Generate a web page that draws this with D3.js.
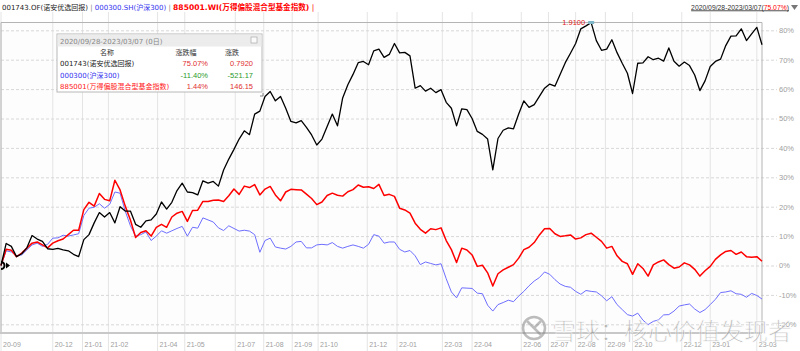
<!DOCTYPE html>
<html>
<head>
<meta charset="utf-8">
<script src="https://cdn.jsdelivr.net/npm/d3@7"></script>
<style>
  body { margin: 0; background: #fff; }
  svg { display: block; font-family: "DejaVu Sans", "Noto Sans CJK SC", sans-serif; }
  .grid line { stroke: #e4e4e4; }
  .ygrid line { stroke: #d8d8d8; stroke-dasharray: 3,2; }
  .axis text { fill: #a0a0a0; font-family: "Liberation Sans", Arial, sans-serif; }
</style>
</head>
<body>
<svg id="chart" width="800" height="351"></svg>
<script>
/* performance comparison, 001743 vs CSI300 vs Wind fund index */
const svg = d3.select("svg#chart");
const width = 800;
const height = 351;
const plotLeft = 1;
const plotRight = 762;
const plotTop = 22.5;
const plotBottom = 333;

// trading-day index of every sample (one point every 4 trading days)
const totalDays = 588;
const sampleStep = 4;

// cumulative return in %, 001743.OF (black)
const fundValues = [0, 7.5, 6.5, 3, 4, 6, 10.2, 9, 8.2, 5.7,
  5.5, 5.8, 5.3, 5, 3.8, 3, 8.8, 10.5, 14.5, 18,
  16.5, 18, 14.5, 20, 18.5, 18.5, 14, 13, 15.2, 15.5,
  17.5, 21.6, 19.2, 21.5, 25.5, 28, 25, 24.8, 24, 28.8,
  28, 28.6, 27, 32.5, 36.2, 39.5, 43, 45.8, 44.5, 51.5,
  52.5, 57.5, 59.2, 56, 57.5, 53.5, 49, 48.5, 49.3, 47,
  44.4, 41, 43, 47.3, 51.5, 47.5, 57, 61.5, 65, 69,
  69.4, 68.3, 73, 73.6, 70.8, 71.8, 75.5, 72.3, 72.5, 71.3,
  60.3, 61.2, 59.3, 60.3, 58.8, 59.8, 55.5, 53.5, 47.5, 53.3,
  53, 50, 45.6, 44.6, 43, 32.5, 43.2, 46, 46.8, 46.5,
  51.5, 56, 53.8, 54.7, 57.5, 60.3, 61.7, 61, 65, 69,
  72.2, 75.5, 80.5, 81.5, 82.6, 76.5, 73.2, 73.6, 76.8, 72.4,
  68.8, 65.4, 58.5, 68.8, 68.9, 71, 70, 70.5, 69.5, 74,
  69.5, 67.8, 69.2, 68, 64.8, 59.5, 62.8, 67.7, 69.4, 70.2,
  74.8, 78, 78.1, 80.5, 76.5, 78.8, 81, 75.07];

// cumulative return in %, 885001.WI (red)
const indexValues = [0, 5.5, 5.2, 3, 4.2, 5.9, 7.6, 8, 7, 6,
  7.6, 8.4, 9, 10.5, 12, 12, 19, 21.5, 20.2, 24.5,
  22.5, 22, 29, 25.7, 20.2, 15.5, 9.5, 11.2, 11.8, 10,
  13, 14, 13, 16.5, 17.8, 18.4, 15, 18.7, 18.8, 21.8,
  21.8, 22.2, 22.3, 21.8, 23.7, 26, 24.2, 27, 26.5, 27.5,
  24, 26, 26.9, 24, 22, 25, 25.9, 25.8, 25.7, 24.3,
  22.8, 20.7, 21.6, 23.8, 24.6, 23.9, 23.6, 25.1, 25.8, 27.4,
  26.6, 26.8, 26.2, 27.6, 23.8, 24.2, 23.5, 19.5, 18.9, 17.8,
  14.4, 12.3, 11, 12.5, 12.2, 12.8, 8.5, 5.4, 1, 5.9,
  5.3, 3.6, -0.3, 0.1, -2.5, -7, -2.8, -1.5, -0.6, 0.3,
  2.5, 5.4, 6.2, 7.8, 10.4, 12.5, 12.6, 10.8, 9.9, 10.1,
  10.4, 9, 9.4, 10.5, 11, 9.6, 8.2, 5.9, 6.5, 3.3,
  1.4, 0.6, -3, 0.6, -1, -3.6, 0.2, 1.2, 1.9, 0.3,
  -0.9, -0.5, 0.9, 0.2, -1.3, -3.6, -1.8, -0.3, 2.1, 3.6,
  4.8, 5.1, 3.8, 4.6, 3, 2.8, 3, 1.44];

// cumulative return in %, 000300.SH (blue)
const csiValues = [0, 5, 4.6, 3.4, 3.6, 5.3, 7, 7.6, 6.5, 7.2,
  9.3, 9.4, 10.3, 10, 10.4, 10.8, 17, 19.5, 19.8, 21,
  19.5, 20.8, 25, 24.6, 18.5, 13.5, 10, 10.5, 11.4, 8.5,
  10, 11.8, 11, 11.8, 12.6, 13.3, 10, 13, 12.7, 16.2,
  15.5, 14.8, 12.8, 11.9, 13.5, 12.6, 11.7, 12, 11.7, 10.5,
  4.5, 8.5, 9.3, 6.3, 5.9, 5.6, 6.5, 8, 8.2, 6,
  6, 7, 7.2, 7, 7.8, 6.5, 5.9, 6.5, 7, 6.5,
  5.9, 7.2, 10.5, 10, 7.6, 8, 8, 5.5, 4.6, 5.1,
  3.3, 0.3, 1.2, 0.7, 0.2, 0.6, -4.5, -9, -11, -7.6,
  -7.7, -7.8, -9.4, -9.6, -13.5, -15.5, -13.3, -12.6, -11.8, -12.3,
  -10.4, -8.8, -6.9, -5.3, -4.1, -2.2, -3, -4.8, -6.3, -7.1,
  -7.4, -8.8, -9.8, -8.5, -8.8, -9, -10.3, -12, -10.6, -13.3,
  -15, -16.7, -17.2, -16.2, -18.6, -20.1, -19, -18.5, -16.8, -16.7,
  -15.5, -13.8, -13.4, -13.1, -14.8, -16, -15, -13.3, -11.5, -9.2,
  -9, -8.6, -9.6, -9.8, -10.8, -9.5, -10.2, -11.4];

// month ticks (label, trading-day index)
const monthLabels = ["20-09", "20-12", "21-01", "21-02", "21-04", "21-05", "21-07", "21-08",
  "21-09", "21-10", "21-12", "22-01", "22-03", "22-04", "22-06", "22-07", "22-08", "22-09",
  "22-10", "22-12", "23-01", "23-03"];
const monthDays = [0, 40, 63, 83, 121, 142, 181, 203, 225, 245, 283, 306, 341, 364, 402, 423,
  444, 467, 488, 526, 548, 584];
const yTicks = [-20, -10, 0, 10, 20, 30, 40, 50, 60, 70, 80];

// legend table
const legendNames = ["001743(诺安优选回报)", "000300(沪深300)", "885001(万得偏股混合型基金指数)"];
const legendPct = ["75.07%", "-11.40%", "1.44%"];
const legendChg = ["0.7920", "-521.17", "146.15"];
const peakLabel = "1.9100";

const seriesColors = ["#000000", "#6e6eff", "#ff0000"];
const legendColors = ["#222222", "#3333ee", "#ff2020"];
const valueColors = ["#e03030", "#2a9a2a", "#e03030"];

// scales
const x = d3.scaleLinear().domain([0, totalDays]).range([plotLeft, plotRight]);
const y = d3.scaleLinear().domain([-20, 80]).range([324.3, 30.3]);

// plot background
svg.append("rect")
    .attr("x", plotLeft).attr("y", plotTop)
    .attr("width", plotRight - plotLeft).attr("height", plotBottom - plotTop)
    .attr("fill", "#fdfdfd");

// vertical grid
svg.append("g")
    .attr("class", "grid")
    .selectAll("line")
    .data(monthDays)
    .join("line")
    .attr("x1", (d) => x(d)).attr("x2", (d) => x(d))
    .attr("y1", 12).attr("y2", height);

// horizontal grid + right labels
const yAxis = svg.append("g")
    .attr("class", "ygrid axis")
    .attr("transform", `translate(${plotLeft},0)`)
    .call(d3.axisRight(y).tickValues(yTicks).tickFormat((d) => d + "%")
        .tickSize(776).tickPadding(2));
yAxis.select(".domain").remove();
yAxis.selectAll("text").style("font-size", "7.5px");

// frame
const frame = svg.append("g").attr("stroke", "#b4b4b4").attr("fill", "none");
frame.append("line").attr("x1", plotLeft).attr("x2", plotRight).attr("y1", plotTop).attr("y2", plotTop);
frame.append("line").attr("x1", plotLeft).attr("x2", plotLeft).attr("y1", plotTop).attr("y2", plotBottom);
frame.append("line").attr("x1", plotRight).attr("x2", plotRight).attr("y1", plotTop).attr("y2", plotBottom);
frame.append("line").attr("x1", 0).attr("x2", plotRight).attr("y1", plotBottom).attr("y2", plotBottom)
    .attr("stroke-width", 2).attr("stroke", "#c8c8c8");

// x axis labels
const xAxis = svg.append("g")
    .attr("class", "axis")
    .attr("transform", `translate(0,${plotBottom})`)
    .call(d3.axisBottom(x).tickValues(monthDays).tickFormat((d, i) => monthLabels[i])
        .tickSize(0).tickPadding(9));
xAxis.select(".domain").remove();
xAxis.selectAll("text").attr("text-anchor", "start").attr("dx", 1.5).style("font-size", "7px");

// lines
const line = d3.line()
    .x((d, i) => x(Math.min(i * sampleStep, totalDays)))
    .y((d) => y(d));

const series = [
    { values: csiValues, color: seriesColors[1], width: 1 },
    { values: indexValues, color: seriesColors[2], width: 1.5 },
    { values: fundValues, color: seriesColors[0], width: 1.3 }
];
svg.append("g")
    .selectAll("path")
    .data(series)
    .join("path")
    .attr("fill", "none")
    .attr("stroke", (d) => d.color)
    .attr("stroke-width", (d) => d.width)
    .attr("stroke-linejoin", "round")
    .attr("d", (d) => line(d.values));

// peak annotation
const peakIdx = d3.maxIndex(fundValues);
const peakX = x(peakIdx * sampleStep);
svg.append("text")
    .text(peakLabel)
    .attr("x", peakX - 6).attr("y", 24.5)
    .attr("text-anchor", "end")
    .attr("fill", "#e02020")
    .style("font-size", "7.5px")
    .style("font-family", "'Liberation Sans', Arial, sans-serif");
svg.append("rect")
    .attr("x", peakX - 3).attr("y", plotTop - 1.5)
    .attr("width", 6).attr("height", 3)
    .attr("fill", "#7fb7c8");

// start marker
svg.append("path")
    .attr("d", `M0,${y(0) - 3.5} A3.5,3.5 0 0 1 0,${y(0) + 3.5}`)
    .attr("fill", "none").attr("stroke", "#000").attr("stroke-width", 2)
    .attr("transform", "translate(1,0)");
svg.append("path")
    .attr("d", `M6,${y(0) - 3} L10,${y(0)} L6,${y(0) + 3} Z`)
    .attr("fill", "#000");

// header
const header = svg.append("text")
    .attr("x", 2).attr("y", 9.5)
    .style("font-size", "7px");
header.append("tspan").text("001743.OF(诺安优选回报)").attr("fill", "#222");
header.append("tspan").text(" | ").attr("fill", "#888");
header.append("tspan").text("000300.SH(沪深300)").attr("fill", "#3333ee");
header.append("tspan").text(" | ").attr("fill", "#888");
header.append("tspan").text("885001.WI(万得偏股混合型基金指数)").attr("fill", "#ff0000")
    .attr("font-weight", "bold").style("font-size", "7.6px");
header.append("tspan").text(" |").attr("fill", "#ff0000").style("font-size", "7.6px");

const range = svg.append("text")
    .attr("x", 789).attr("y", 9.5)
    .attr("text-anchor", "end")
    .attr("text-decoration", "underline")
    .style("font-size", "6.8px")
    .style("font-family", "'Liberation Sans', Arial, sans-serif");
range.append("tspan").text("2020/09/28-2023/03/07(").attr("fill", "#333");
range.append("tspan").text("75.07%").attr("fill", "#ff0000");
range.append("tspan").text(")").attr("fill", "#333");
svg.append("path").attr("d", "M791,5 L798,5 L794.5,10 Z").attr("fill", "#777");

// legend box
const legend = svg.append("g").attr("transform", "translate(57,34)");
legend.append("rect")
    .attr("width", 205).attr("height", 58)
    .attr("fill", "#fff").attr("stroke", "#b8b8b8");
legend.append("rect")
    .attr("x", 0.5).attr("y", 0.5).attr("width", 204).attr("height", 12)
    .attr("fill", "#ececec");
legend.append("text")
    .text("2020/09/28-2023/03/07 (0日)")
    .attr("x", 3).attr("y", 9.5)
    .attr("fill", "#888").style("font-size", "7px");
legend.append("rect")
    .attr("x", 194).attr("y", 3).attr("width", 6).attr("height", 6)
    .attr("fill", "#fafafa").attr("stroke", "#aaa").attr("stroke-width", 0.7);
const colHeads = [["名称", 50], ["涨跌幅", 129], ["涨跌", 175]];
colHeads.forEach(([label, cx]) => {
    legend.append("text").text(label).attr("x", cx).attr("y", 21)
        .attr("text-anchor", "middle").attr("fill", "#333").style("font-size", "7px");
});
legendNames.forEach((name, i) => {
    const rowY = 32 + i * 11.6;
    legend.append("text").text(name)
        .attr("x", 3).attr("y", rowY)
        .attr("fill", legendColors[i]).style("font-size", "7px");
    legend.append("text").text(legendPct[i])
        .attr("x", 151).attr("y", rowY).attr("text-anchor", "end")
        .attr("fill", valueColors[i]).style("font-size", "7.5px")
        .style("font-family", "'Liberation Sans', Arial, sans-serif");
    legend.append("text").text(legendChg[i])
        .attr("x", 196).attr("y", rowY).attr("text-anchor", "end")
        .attr("fill", valueColors[i]).style("font-size", "7.5px")
        .style("font-family", "'Liberation Sans', Arial, sans-serif");
});
// resize grip
legend.append("path").attr("d", "M203,62 L206,62 L206,59")
    .attr("fill", "none").attr("stroke", "#666").attr("stroke-width", 0.8);

// watermark
const wm = svg.append("g").attr("opacity", 0.55);
wm.append("circle").attr("cx", 534).attr("cy", 328).attr("r", 11)
    .attr("fill", "none").attr("stroke", "#888").attr("stroke-width", 2.5);
wm.append("path").attr("d", "M527,321 L541,335 M541,321 L534,328")
    .attr("stroke", "#888").attr("stroke-width", 2.5).attr("fill", "none");
wm.append("text")
    .text("雪球：核心价值发现者")
    .attr("x", 552).attr("y", 340)
    .attr("fill", "#888")
    .attr("stroke", "#fff").attr("stroke-width", 0.8)
    .style("font-size", "24px")
    .style("font-family", "'Noto Sans CJK SC', sans-serif");
</script>
</body>
</html>
